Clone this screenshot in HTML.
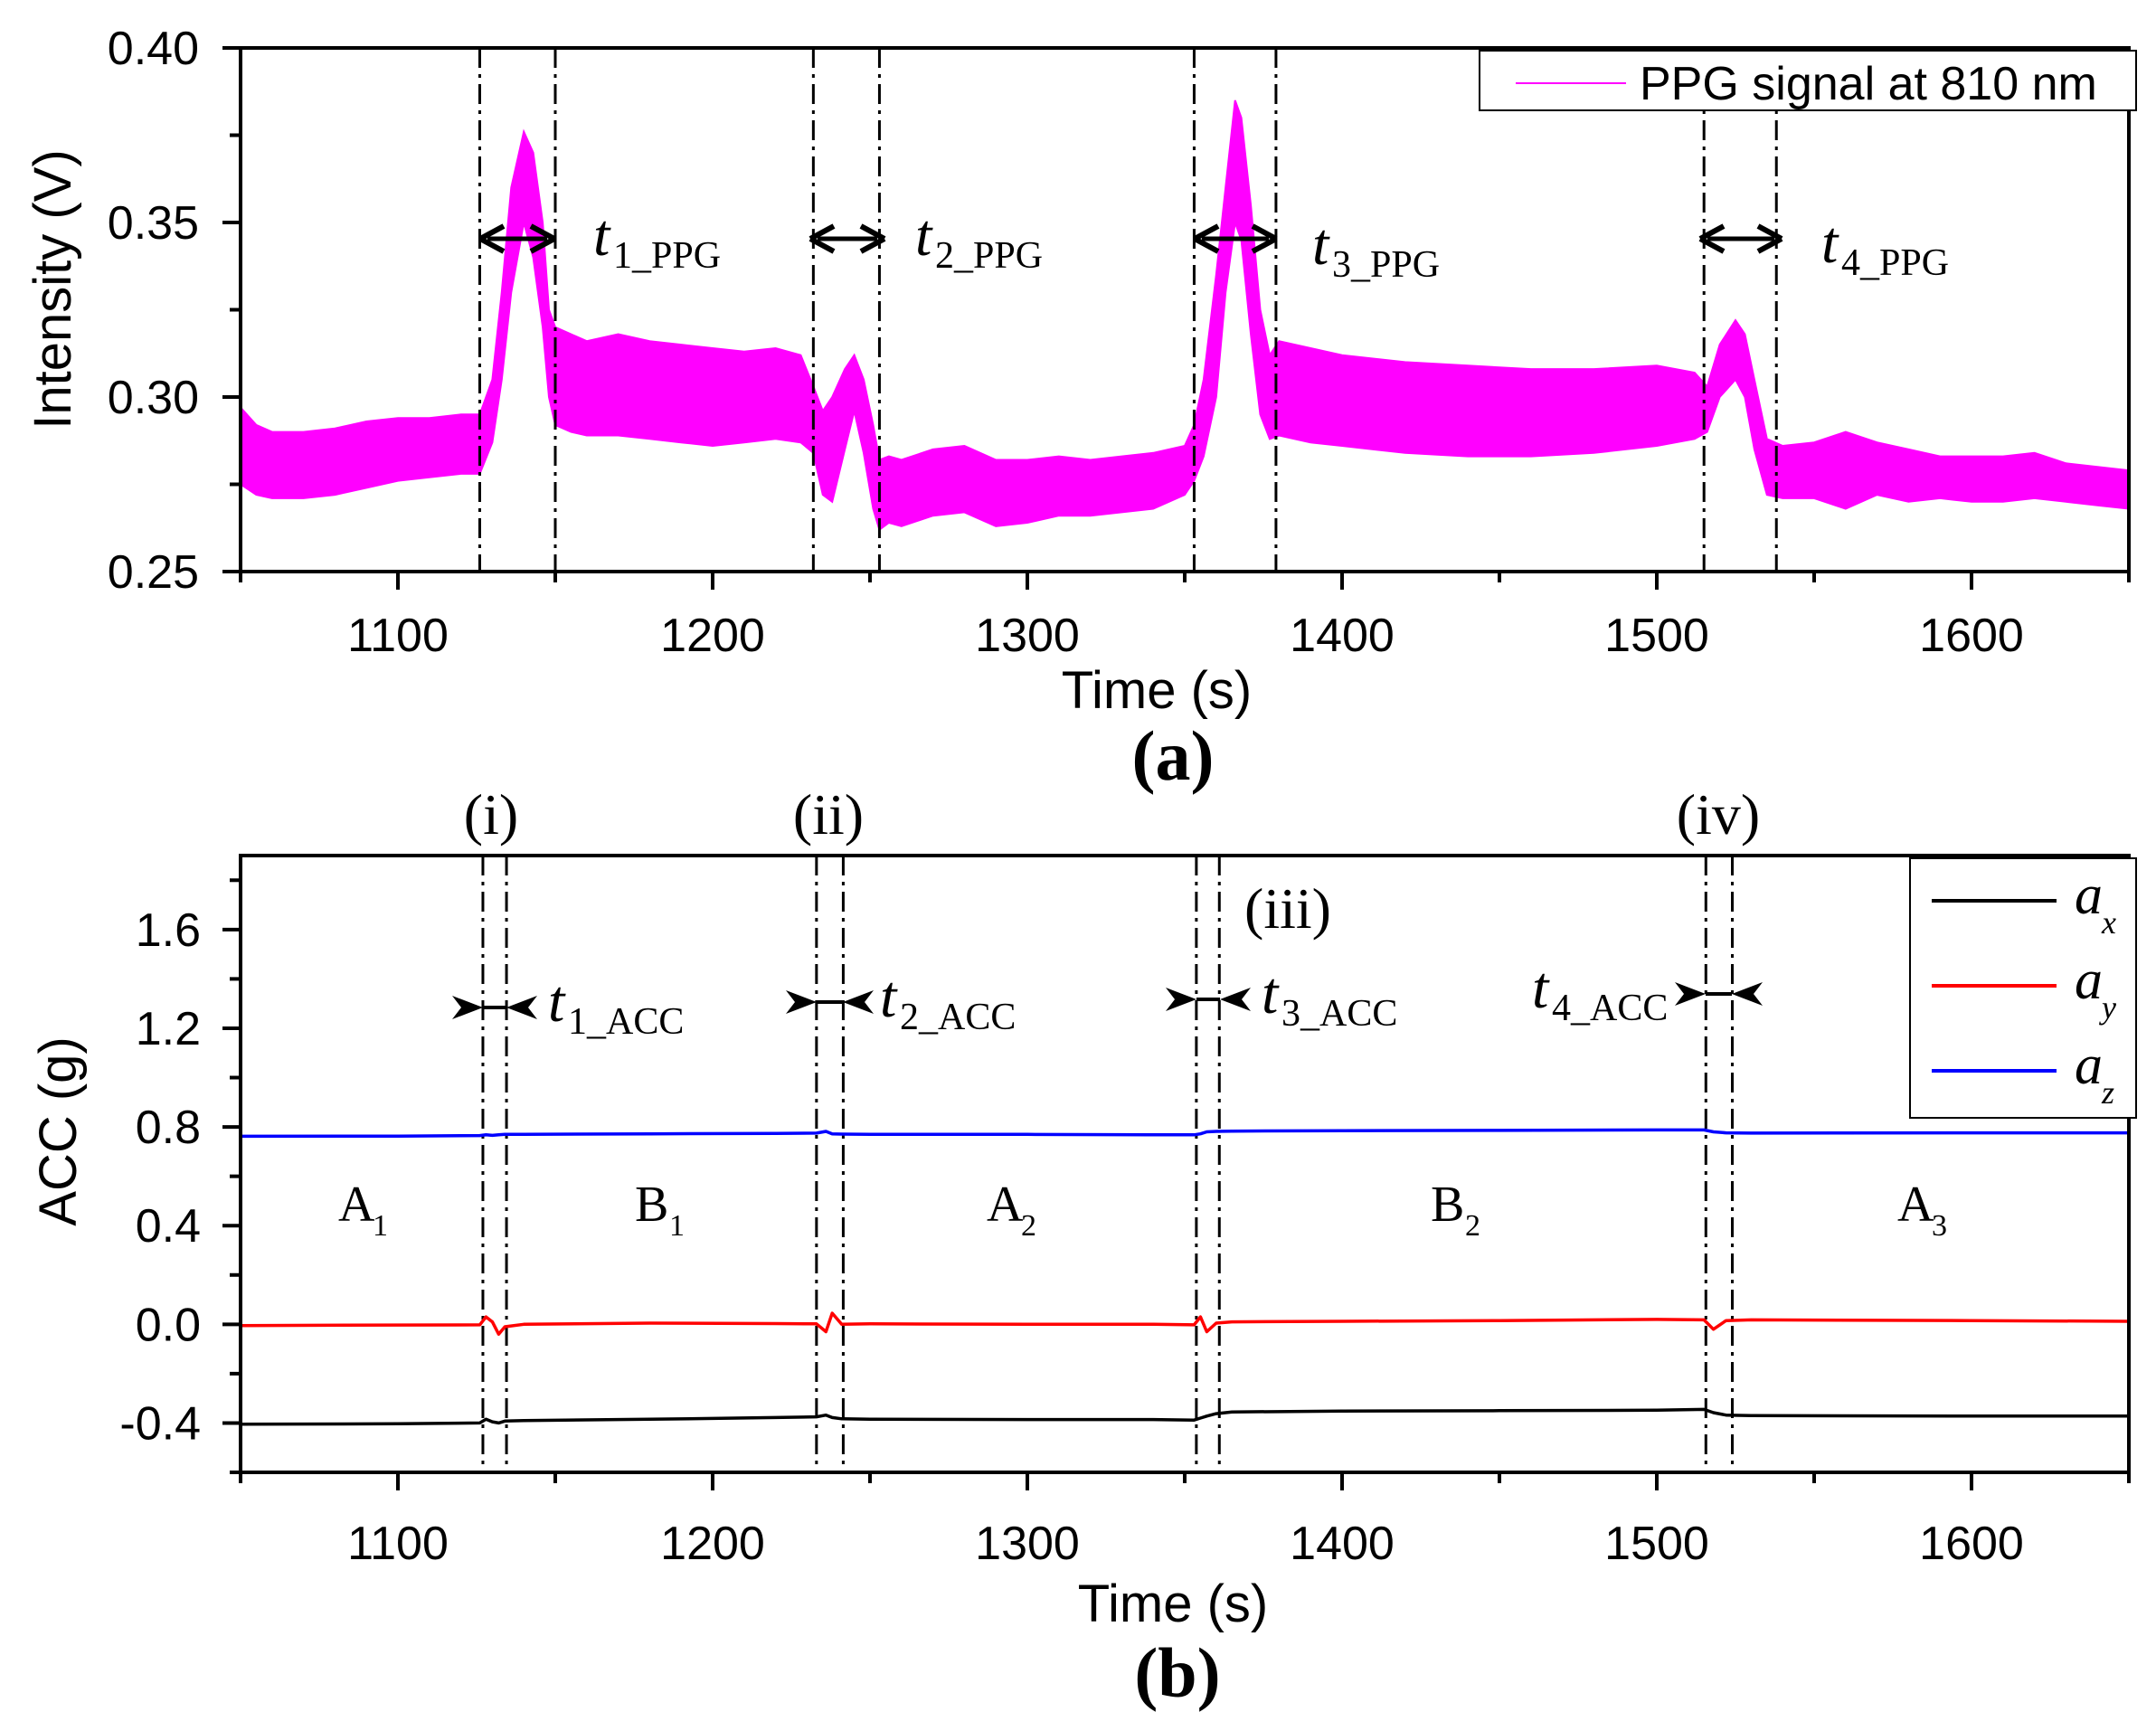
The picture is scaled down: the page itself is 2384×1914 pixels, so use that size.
<!DOCTYPE html>
<html><head><meta charset="utf-8"><style>
html,body{margin:0;padding:0;background:#fff}
svg{display:block}
text{font-family:"Liberation Sans",sans-serif}
.serif{font-family:"Liberation Serif",serif}
</style></head><body>
<svg id="fig" width="2384" height="1914" viewBox="0 0 2384 1914" xmlns="http://www.w3.org/2000/svg">
<g id="topPanel"></g>
<g id="botPanel"></g>
</svg>
<script>
// ---- PPG data (top panel) ----
const ppgTime = [1050,1055,1060,1070,1080,1090,1100,1110,1120,1126,1130,1133,1136,1140,1143,1146,1148,1150,1155,1160,1170,1180,1190,1200,1210,1220,1228,1232,1235,1238,1242,1245,1248,1251,1253,1256,1260,1270,1280,1290,1300,1310,1320,1330,1340,1350,1353,1356,1360,1363,1366,1368,1371,1374,1377,1380,1390,1400,1420,1440,1460,1480,1500,1512,1516,1520,1525,1528,1531,1535,1540,1550,1560,1570,1580,1590,1600,1610,1620,1630,1640,1650];
const ppgUpper = [0.297,0.292,0.290,0.290,0.291,0.293,0.294,0.294,0.295,0.295,0.305,0.330,0.360,0.376,0.370,0.350,0.325,0.320,0.318,0.316,0.318,0.316,0.315,0.314,0.313,0.314,0.312,0.303,0.296,0.300,0.308,0.312,0.305,0.292,0.282,0.283,0.282,0.285,0.286,0.282,0.282,0.283,0.282,0.283,0.284,0.286,0.292,0.305,0.335,0.360,0.385,0.380,0.355,0.325,0.312,0.316,0.314,0.312,0.310,0.309,0.308,0.308,0.309,0.307,0.303,0.315,0.322,0.318,0.305,0.288,0.286,0.287,0.290,0.287,0.285,0.283,0.283,0.283,0.284,0.281,0.280,0.279];
const ppgLower = [0.275,0.272,0.271,0.271,0.272,0.274,0.276,0.277,0.278,0.278,0.287,0.305,0.330,0.350,0.340,0.320,0.300,0.292,0.290,0.289,0.289,0.288,0.287,0.286,0.287,0.288,0.287,0.284,0.272,0.270,0.285,0.296,0.284,0.268,0.262,0.264,0.263,0.266,0.267,0.263,0.264,0.266,0.266,0.267,0.268,0.272,0.276,0.283,0.300,0.330,0.350,0.345,0.318,0.295,0.288,0.289,0.287,0.286,0.284,0.283,0.283,0.284,0.286,0.288,0.290,0.300,0.305,0.300,0.285,0.272,0.271,0.271,0.268,0.272,0.270,0.271,0.270,0.270,0.271,0.270,0.269,0.268];
const ppgXTicks = [1100,1200,1300,1400,1500,1600];
const ppgYTicks = [0.25,0.30,0.35,0.40];
const ppgMarkers = [1126,1150,1232,1253,1353,1379,1515,1538];
// ---- ACC data (bottom panel) ----
const accTime = [1050,1100,1126,1128,1130,1132,1134,1140,1180,1220,1233,1236,1238,1241,1250,1300,1340,1353,1355,1357,1360,1365,1400,1450,1500,1515,1518,1522,1530,1600,1650];
const accX = [-0.405,-0.403,-0.400,-0.385,-0.395,-0.400,-0.392,-0.390,-0.385,-0.378,-0.375,-0.368,-0.378,-0.383,-0.385,-0.386,-0.386,-0.388,-0.380,-0.372,-0.362,-0.355,-0.352,-0.350,-0.348,-0.345,-0.358,-0.368,-0.370,-0.372,-0.372];
const accY = [-0.005,-0.003,-0.002,0.030,0.010,-0.040,-0.010,0.000,0.005,0.003,0.002,-0.030,0.045,0.000,0.002,0.000,0.000,-0.002,0.030,-0.030,0.005,0.010,0.012,0.015,0.020,0.018,-0.020,0.015,0.018,0.015,0.012];
const accZ = [0.762,0.763,0.765,0.768,0.766,0.768,0.770,0.770,0.772,0.774,0.775,0.782,0.772,0.771,0.770,0.770,0.768,0.768,0.772,0.780,0.782,0.783,0.785,0.786,0.788,0.788,0.780,0.776,0.775,0.776,0.776];
const accXTicks = [1100,1200,1300,1400,1500,1600];
const accYTicks = [-0.4,0.0,0.4,0.8,1.2,1.6];
const accMarkers = [1127,1134.5,1233,1241.5,1353.7,1361,1515.6,1524];

const NS = "http://www.w3.org/2000/svg";
function mk(parent, tag, attrs, txt){
  const e = document.createElementNS(NS, tag);
  for (const k in attrs) e.setAttribute(k, attrs[k]);
  if (txt !== undefined) e.textContent = txt;
  parent.appendChild(e);
  return e;
}
const X0=266, X1=2354;
function sx(t){ return X0 + (t-1050)/600*(X1-X0); }

// ---------- TOP PANEL ----------
const topG = document.getElementById('topPanel');
const TY0=53, TY1=632;
function ty(v){ return TY1 - (v-0.25)/0.15*(TY1-TY0); }

let bandD = "";
ppgTime.forEach((t,i)=>{ bandD += (i?"L":"M")+sx(t).toFixed(1)+","+ty(ppgUpper[i]).toFixed(1); });
for (let i=ppgTime.length-1;i>=0;i--) bandD += "L"+sx(ppgTime[i]).toFixed(1)+","+ty(ppgLower[i]).toFixed(1);
bandD += "Z";
const band = mk(topG,'path',{d:bandD,fill:'#ff00ff',stroke:'#ff00ff','stroke-width':2});



ppgMarkers.forEach((t)=>{
  const l = mk(topG,'line',{x1:sx(t),x2:sx(t),y1:TY0,y2:TY1,stroke:'#000','stroke-width':3,'stroke-dasharray':'22 7 4 7'});
  
  
});

const tf = mk(topG,'rect',{x:X0,y:TY0,width:X1-X0,height:TY1-TY0,fill:'none',stroke:'#000','stroke-width':4});


for (let t=1050;t<=1650;t+=50){
  const major = (t%100===0);
  const tk = mk(topG,'line',{x1:sx(t),x2:sx(t),y1:TY1,y2:TY1+(major?20:12),stroke:'#000','stroke-width':4});
  
  
}
ppgXTicks.forEach(t=>{
  const lb = mk(topG,'text',{x:sx(t),y:720,'font-size':52,'text-anchor':'middle'},String(t));
  
  
});
for (let k=0;k<=6;k++){
  const v=0.25+k*0.025; const major=(k%2===0);
  const tk = mk(topG,'line',{x1:X0,x2:X0-(major?20:12),y1:ty(v),y2:ty(v),stroke:'#000','stroke-width':4});
  
  
}
ppgYTicks.forEach(v=>{
  const lb = mk(topG,'text',{x:220,y:ty(v)+18,'font-size':52,'text-anchor':'end'},v.toFixed(2));
  
  
});
let tt = mk(topG,'text',{x:1279,y:783,'font-size':58,'text-anchor':'middle'},'Time (s)');


tt = mk(topG,'text',{x:0,y:0,'font-size':58,'text-anchor':'middle',transform:'translate(78,320) rotate(-90)'},'Intensity (V)');


tt = mk(topG,'text',{x:1297,y:862,'font-size':78,'font-weight':'bold','text-anchor':'middle','class':'serif'},'(a)');



const lg = mk(topG,'g',{});


mk(lg,'rect',{x:1636,y:56,width:726,height:66,fill:'#fff',stroke:'#000','stroke-width':2});
mk(lg,'line',{x1:1676,x2:1798,y1:92,y2:92,stroke:'#ff00ff','stroke-width':2});
mk(lg,'text',{x:1813,y:110,'font-size':52},'PPG signal at 810 nm');

function dblArrow(g,x1,x2,y){
  mk(g,'line',{x1:x1+8,x2:x2-8,y1:y,y2:y,stroke:'#000','stroke-width':5});
  mk(g,'path',{d:`M${x1},${y} L${x1+26},${y-14} M${x1},${y} L${x1+26},${y+14}`,stroke:'#000','stroke-width':6,fill:'none'});
  mk(g,'path',{d:`M${x2},${y} L${x2-26},${y-14} M${x2},${y} L${x2-26},${y+14}`,stroke:'#000','stroke-width':6,fill:'none'});
}
const ppgAnn = [[531,613,264,656,282,'1'],[896,978,264,1012,282,'2'],[1321,1411,264,1451,292,'3'],[1880,1970,264,2014,290,'4']];
ppgAnn.forEach(a=>{
  const g = mk(topG,'g',{});
  
  
  dblArrow(g,a[0],a[1],a[2]);
  mk(g,'text',{x:a[3],y:a[4],'font-size':66,'font-style':'italic','class':'serif'},'t');
  mk(g,'text',{x:a[3]+22,y:a[4]+14,'font-size':42,'class':'serif'},a[5]+'_PPG');
});

// ---------- BOTTOM PANEL ----------
const botG = document.getElementById('botPanel');
const BY0=946, BY1=1628;
function by(v){ return BY1 - (v+0.6)/2.5*(BY1-BY0); }

accMarkers.forEach(t=>{
  const l = mk(botG,'line',{x1:sx(t),x2:sx(t),y1:BY0,y2:BY1,stroke:'#000','stroke-width':3,'stroke-dasharray':'22 7 4 7'});
  
  
});
function series(arr,color){
  let p="";
  accTime.forEach((t,i)=>{ p += (i?"L":"M")+sx(t).toFixed(1)+","+by(arr[i]).toFixed(1); });
  return mk(botG,'path',{d:p,fill:'none',stroke:color,'stroke-width':3.5,'stroke-linejoin':'round'});
}
let ser = series(accX,'#000');


ser = series(accY,'#ff0000');


ser = series(accZ,'#0000ff');



const bf = mk(botG,'rect',{x:X0,y:BY0,width:X1-X0,height:BY1-BY0,fill:'none',stroke:'#000','stroke-width':4});


for (let t=1050;t<=1650;t+=50){
  const major = (t%100===0);
  const tk = mk(botG,'line',{x1:sx(t),x2:sx(t),y1:BY1,y2:BY1+(major?20:12),stroke:'#000','stroke-width':4});
  
  
}
accXTicks.forEach(t=>{
  const lb = mk(botG,'text',{x:sx(t),y:1724,'font-size':52,'text-anchor':'middle'},String(t));
  
  
});
for (let k=-3;k<=9;k++){
  const v=k*0.2; const major = (k%2===0);
  const tk = mk(botG,'line',{x1:X0,x2:X0-(major?20:12),y1:by(v),y2:by(v),stroke:'#000','stroke-width':4});
  
  
}
accYTicks.forEach(v=>{
  const lb = mk(botG,'text',{x:222,y:by(v)+18,'font-size':52,'text-anchor':'end'},v.toFixed(1));
  
  
});
tt = mk(botG,'text',{x:1297,y:1793,'font-size':58,'text-anchor':'middle'},'Time (s)');


tt = mk(botG,'text',{x:0,y:0,'font-size':58,'text-anchor':'middle',transform:'translate(84,1251) rotate(-90)'},'ACC (g)');


tt = mk(botG,'text',{x:1302,y:1876,'font-size':78,'font-weight':'bold','text-anchor':'middle','class':'serif'},'(b)');



const lg2 = mk(botG,'g',{});


mk(lg2,'rect',{x:2112,y:949,width:250,height:287,fill:'#fff',stroke:'#000','stroke-width':2});
[['#000','x',996],['#ff0000','y',1090],['#0000ff','z',1184]].forEach(e=>{
  mk(lg2,'line',{x1:2136,x2:2274,y1:e[2],y2:e[2],stroke:e[0],'stroke-width':4});
  mk(lg2,'text',{x:2294,y:e[2]+14,'font-size':62,'font-style':'italic','class':'serif'},'a');
  mk(lg2,'text',{x:2324,y:e[2]+36,'font-size':36,'font-style':'italic','class':'serif'},e[1]);
});

[['(i)',543,922],['(ii)',916,922],['(iii)',1424,1026],['(iv)',1900,922]].forEach(e=>{
  const t = mk(botG,'text',{x:e[1],y:e[2],'font-size':64,'text-anchor':'middle','class':'serif'},e[0]);
  
  
});

function inArrow(g,xl,xr,y){
  mk(g,'line',{x1:xl,x2:xr,y1:y,y2:y,stroke:'#000','stroke-width':4});
  mk(g,'path',{d:`M${xl},${y} L${xl-34},${y-13} L${xl-24},${y} L${xl-34},${y+13}Z`,fill:'#000'});
  mk(g,'path',{d:`M${xr},${y} L${xr+34},${y-13} L${xr+24},${y} L${xr+34},${y+13}Z`,fill:'#000'});
}
const accAnn = [[534,560,1114,606,1129,'1'],[903,932,1108,973,1124,'2'],[1323,1349,1105,1395,1120,'3'],[1886,1915,1099,1694,1114,'4']];
accAnn.forEach(a=>{
  const g = mk(botG,'g',{});
  
  
  inArrow(g,a[0],a[1],a[2]);
  mk(g,'text',{x:a[3],y:a[4],'font-size':66,'font-style':'italic','class':'serif'},'t');
  mk(g,'text',{x:a[3]+22,y:a[4]+14,'font-size':42,'class':'serif'},a[5]+'_ACC');
});

[['A','1',394],['B','1',722],['A','2',1111],['B','2',1602],['A','3',2118]].forEach(e=>{
  const g = mk(botG,'g',{});
  
  
  mk(g,'text',{x:e[2]-20,y:1350,'font-size':56,'class':'serif'},e[0]);
  mk(g,'text',{x:e[2]+18,y:1366,'font-size':34,'class':'serif'},e[1]);
});
</script>
</body></html>
